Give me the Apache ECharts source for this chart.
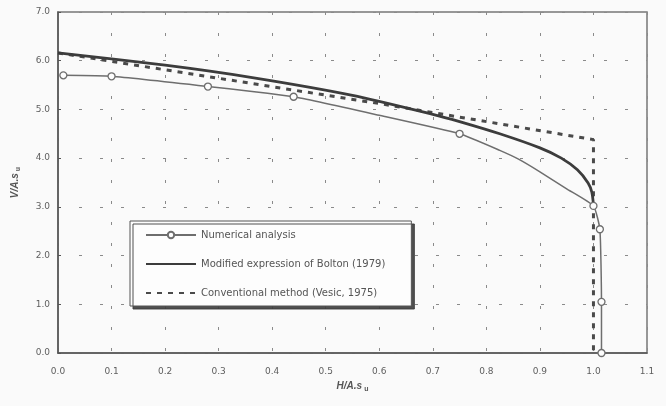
<!DOCTYPE html>
<html>
<head>
<meta charset="utf-8">
<script src="https://cdn.jsdelivr.net/npm/echarts@6/dist/echarts.min.js"></script>
<style>
    html, body {margin: 0; padding: 0; background: #fafafa;}
    #chart {width: 666px; height: 406px;}
</style>
</head>
<body>
<div id="chart"></div>
<script>
// values
let seriesNames = [
    'Numerical analysis',
    'Modified expression of Bolton (1979)',
    'Conventional method (Vesic, 1975)'
];
let numX = [0.01, 0.1, 0.28, 0.44, 0.6, 0.75, 0.825, 0.86, 0.9, 0.95, 1.0, 1.012, 1.015, 1.015];
let numY = [5.7, 5.68, 5.47, 5.26, 4.88, 4.5, 4.16, 3.98, 3.72, 3.37, 3.02, 2.54, 1.05, 0.0];
// 1 = circle marker drawn at that point
let numMark = [1, 1, 1, 1, 0, 1, 0, 0, 0, 0, 1, 1, 1, 1];
let boltonX = [0, 0.2, 0.36, 0.55, 0.7, 0.75, 0.825, 0.9, 0.94, 0.97, 0.99, 0.997, 1.0];
let boltonY = [6.16, 5.91, 5.66, 5.29, 4.9, 4.75, 4.5, 4.21, 4.0, 3.76, 3.49, 3.3, 3.04];
let vesicX = [0, 0.6, 1.0, 1.0];
let vesicY = [6.16, 5.12, 4.38, 0.0];
let xTicks = ['0.0', '0.1', '0.2', '0.3', '0.4', '0.5', '0.6', '0.7', '0.8', '0.9', '1.0', '1.1'];
let yTicks = ['0.0', '1.0', '2.0', '3.0', '4.0', '5.0', '6.0', '7.0'];

let pairs = (xs, ys) => xs.map((x, i) => [x, ys[i]]);

let numData = numX.map((x, i) => ({
    value: [x, numY[i]],
    symbol: numMark[i] ? 'circle' : 'none'
}));

let fontName = 'DejaVu Sans, Verdana, sans-serif';
let labelStyle = {
    color: '#5e5e5e',
    fontSize: 9,
    fontFamily: fontName
};
let gridLine = {
    show: true,
    lineStyle: {color: '#8a8a8a', width: 1, type: [3, 18]}
};
let nameRich = {
    i: {fontSize: 10, fontStyle: 'italic', fontWeight: 'bold', color: '#555', fontFamily: 'Liberation Sans, Arial, sans-serif'},
    s: {fontSize: 7, fontWeight: 'bold', color: '#555', padding: [7, 0, 0, 2], fontFamily: 'Liberation Sans, Arial, sans-serif'}
};

let option = {
    backgroundColor: '#fafafa',
    animation: false,
    grid: {
        left: 58,
        right: 19,
        top: 12,
        bottom: 53,
        show: true,
        borderColor: '#777',
        borderWidth: 1.5,
        backgroundColor: 'transparent'
    },
    legend: {
        orient: 'vertical',
        left: 130,
        top: 221,
        data: [
            {name: seriesNames[0]},
            {name: seriesNames[1], itemStyle: {opacity: 0}},
            {name: seriesNames[2], itemStyle: {opacity: 0}}
        ],
        backgroundColor: '#fdfdfd',
        borderColor: '#555',
        borderWidth: 1,
        shadowColor: 'rgba(60,60,60,0.9)',
        shadowOffsetX: 3,
        shadowOffsetY: 3,
        shadowBlur: 0,
        padding: [9, 26, 8, 15],
        itemWidth: 50,
        itemHeight: 8,
        itemGap: 19,
        textStyle: {
            color: '#555',
            fontSize: 10,
            fontFamily: fontName
        }
    },
    xAxis: {
        type: 'value',
        min: 0,
        max: 1.1,
        interval: 0.1,
        name: '{i|H/A.s}{s|u}',
        nameLocation: 'middle',
        nameGap: 24,
        nameTextStyle: {rich: nameRich},
        axisLine: {lineStyle: {color: '#555', width: 1.5}},
        axisTick: {show: false},
        axisLabel: {
            margin: 14,
            formatter: v => xTicks[Math.round(v * 10)],
            ...labelStyle
        },
        splitLine: gridLine
    },
    yAxis: {
        type: 'value',
        min: 0,
        max: 7,
        interval: 1,
        name: '{i|V/A.s}{s|u}',
        nameLocation: 'middle',
        nameRotate: 90,
        nameGap: 36,
        nameTextStyle: {rich: nameRich},
        axisLine: {show: true, lineStyle: {color: '#555', width: 1.5}},
        axisTick: {show: true, inside: true, length: 3, lineStyle: {color: '#555'}},
        axisLabel: {
            margin: 8,
            formatter: v => yTicks[Math.round(v)],
            ...labelStyle
        },
        splitLine: gridLine
    },
    series: [
        {
            name: seriesNames[0],
            type: 'line',
            data: numData,
            symbol: 'circle',
            symbolSize: 7,
            smooth: 0.15,
            lineStyle: {color: '#6e6e6e', width: 1.5},
            itemStyle: {color: '#fdfdfd', borderColor: '#6e6e6e', borderWidth: 1.3},
            z: 4
        },
        {
            name: seriesNames[1],
            type: 'line',
            data: pairs(boltonX, boltonY),
            smooth: 0.25,
            showSymbol: false,
            symbol: 'none',
            lineStyle: {color: '#3c3c3c', width: 2.8},
            itemStyle: {color: '#3c3c3c'},
            z: 3
        },
        {
            name: seriesNames[2],
            type: 'line',
            data: pairs(vesicX, vesicY),
            showSymbol: false,
            symbol: 'none',
            lineStyle: {color: '#4a4a4a', width: 3, type: [5, 6]},
            itemStyle: {color: '#4a4a4a'},
            z: 2
        }
    ]
};

let myChart = echarts.init(document.getElementById('chart'));
myChart.setOption(option);
</script>
</body>
</html>
